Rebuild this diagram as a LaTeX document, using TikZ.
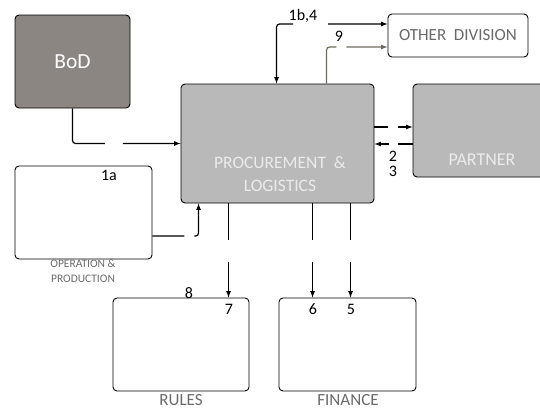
\documentclass[tikz,border=0pt]{standalone}
\usepackage{fontspec}
\setmainfont{Carlito}
\usetikzlibrary{positioning,calc,arrows}
\definecolor{bodgray}{HTML}{8B8682}
\definecolor{plgray}{HTML}{B9B9B9}
\definecolor{txtgray}{HTML}{6A6A6A}
\definecolor{ninecol}{HTML}{6F6A60}
\tikzset{
  wb/.style={rectangle, rounded corners=4pt, draw=black, fill=white, inner sep=0pt},
  gb/.style={rectangle, rounded corners=4pt, draw=black, fill=plgray, inner sep=0pt},
  db/.style={rectangle, rounded corners=4pt, draw=black, fill=bodgray, inner sep=0pt},
  num/.style={font=\fontsize{16}{18}\selectfont, inner sep=0pt},
  lab/.style={font=\fontsize{17}{20}\selectfont, text=txtgray, inner sep=0pt},
  link/.style={line width=1.2pt, ->, >=latex}
}

\begin{document}
\begin{tikzpicture}[x=1pt, y=-1pt, line width=0.9pt]
	\useasboundingbox (0,0) rectangle (540,410);
	\node[db, minimum width=115pt, minimum height=93pt, text=white, font=\fontsize{21.5}{24}\selectfont] (bod) at (72.5,61.5) {BoD};
	\node[gb, minimum width=193pt, minimum height=119pt] (proc) at (277.5,143.5) {};
	\node[wb, minimum width=140pt, minimum height=43pt, lab] (other) at (458,35.5) {OTHER~ DIVISION};
	\node[gb, minimum width=132pt, minimum height=93pt] (partner) at (479,130.5) {};
	\node[wb, minimum width=137pt, minimum height=93pt] (op) at (83.5,212.5) {};
	\node[wb, minimum width=136pt, minimum height=93pt] (rules) at (181,344.5) {};
	\node[wb, minimum width=137pt, minimum height=93pt] (fin) at (347.5,344.5) {};
	%
	\node[font=\fontsize{17.5}{23}\selectfont, text=white!92!black, align=center] (proctxt) at (280,174) {PROCUREMENT~ \&\\LOGISTICS};
	\node[font=\fontsize{18}{20}\selectfont, text=white!92!black] (partnertxt) at (482,160) {PARTNER};
	\node[font=\fontsize{11.5}{15}\selectfont, text=txtgray, align=center] (optxt) at (83,271) {OPERATION \&\\PRODUCTION};
	\node[lab] (rulestxt) at (181,400) {RULES};
	\node[lab] (fintxt) at (348,400) {FINANCE};
	%
	\node[num] (n1a) at (109,175) {1a};
	\node[num] (n1b) at (303,16) {1b,4};
	\node[num] (n9) at (339,36) {9};
	\node[num] (n2) at (393,156) {2};
	\node[num] (n3) at (393,171) {3};
	\node[num] (n8) at (189,293) {8};
	\node[num] (n7) at (229,309) {7};
	\node[num] (n6) at (313,309) {6};
	\node[num] (n5) at (351,309) {5};
	%
	\draw[link, rounded corners=3pt, dash pattern=on 66pt off 18pt on 300pt] (bod.south) |- (proc.west);
	\draw[link, rounded corners=3pt, dash pattern=on 32pt off 10pt on 200pt] ($(op.east)+(0,23.5)$) -| ($(proc.south west)+(18,0)$);
	\draw[link, <->, rounded corners=3pt, dash pattern=on 69pt off 35pt on 300pt] ($(proc.north west)+(96,0)$) |- ($(other.west)+(0,-11.5)$);
	\draw[link, ninecol, rounded corners=3pt, dash pattern=on 45pt off 10pt on 200pt] ($(proc.north west)+(146,0)$) |- ($(other.west)+(0,11.5)$);
	\draw[link, dash pattern=on 14pt off 10pt on 50pt] ($(proc.east)+(0,-16.5)$) -- ($(partner.west)+(0,-3.5)$);
	\draw[link, dash pattern=on 15pt off 9pt on 50pt] ($(partner.west)+(0,13.5)$) -- ($(proc.east)+(0,0.5)$);
	\foreach \dx/\dest in {48/rules, 132/fin, 170/fin}{
		\path (proc.south west) ++(\dx,0) coordinate (drop);
		\draw[link, dash pattern=on 37pt off 22pt on 100pt] (drop) -- (drop |- \dest.north);
	}
\end{tikzpicture}
\end{document}
